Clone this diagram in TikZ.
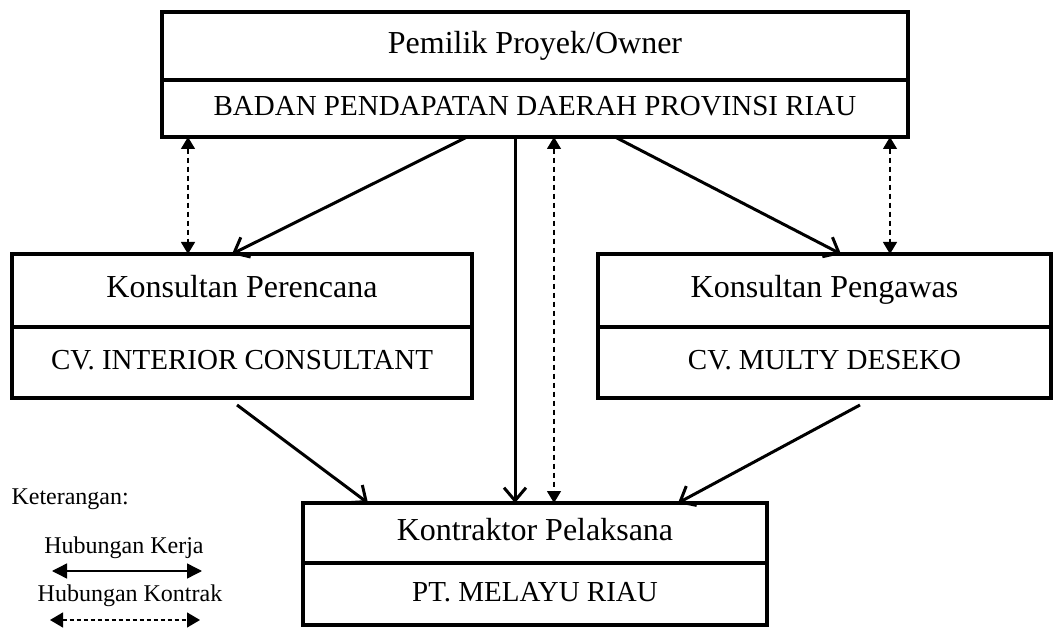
\documentclass[tikz,border=0pt]{standalone}
\usepackage{fontspec}
\setmainfont{Liberation Serif}
\usepackage{tikz}
\usetikzlibrary{positioning,arrows.meta}

\begin{document}
\begin{tikzpicture}[x=1pt,y=-1pt,
    kotak/.style={shape=rectangle, draw, line width=3.2pt, outer sep=0pt, inner sep=0pt},
    judul/.style={kotak, font=\fontsize{32}{38}\selectfont, text height=21pt, text depth=6pt},
    nama/.style={kotak, font=\fontsize{29}{35}\selectfont, text height=19pt, text depth=4pt},
    kerja/.style={line width=3pt, -{Straight Barb[length=13pt,width=22pt]}},
    kontrak/.style={line width=1.2pt, dash pattern=on 5pt off 4pt, {Triangle[length=12pt,width=14pt]}-{Triangle[length=12pt,width=14pt]}},
    ket/.style={font=\fontsize{24}{29}\selectfont}]
                        \useasboundingbox (0,0) rectangle (1053,628);

                        \node[judul, minimum width=746pt, minimum height=68pt] (owner) at (535,46) {Pemilik Proyek/Owner};
                        \node[nama, minimum width=746pt, minimum height=57pt] (badan) [below=0pt of owner] {BADAN PENDAPATAN DAERAH PROVINSI RIAU};

                        \node[judul, minimum width=460pt, minimum height=73pt] (perencana) at (242,290.5) {Konsultan Perencana};
                        \node[nama, minimum width=460pt, minimum height=71pt] (interior) [below=0pt of perencana] {CV. INTERIOR CONSULTANT};

                        \node[judul, minimum width=453pt, minimum height=73pt] (pengawas) at (824.5,290.5) {Konsultan Pengawas};
                        \node[nama, minimum width=453pt, minimum height=71pt] (multy) [below=0pt of pengawas] {CV. MULTY DESEKO};

                        \node[judul, minimum width=464pt, minimum height=60pt] (kontraktor) at (535,533) {Kontraktor Pelaksana};
                        \node[nama, minimum width=464pt, minimum height=62pt] (melayu) [below=0pt of kontraktor] {PT. MELAYU RIAU};

                        % ujung panah
                        \coordinate (a1) at ([xshift=-68pt]badan.south);
                        \coordinate (a2) at ([xshift=-10pt]perencana.north);
                        \coordinate (b1) at ([xshift=80pt]badan.south);
                        \coordinate (b2) at ([xshift=16.5pt]pengawas.north);
                        \coordinate (c1) at ([xshift=-20pt]badan.south);
                        \coordinate (c2) at ([xshift=-20pt]kontraktor.north);
                        \coordinate (d1) at ([xshift=-5pt,yshift=-7pt]interior.south);
                        \coordinate (d2) at ([xshift=-167pt]kontraktor.north);
                        \coordinate (e1) at ([xshift=35.5pt,yshift=-7pt]multy.south);
                        \coordinate (e2) at ([xshift=143pt]kontraktor.north);

                        \coordinate (f1) at ([xshift=-347pt]badan.south);
                        \coordinate (f2) at ([xshift=-54pt]perencana.north);
                        \coordinate (g1) at ([xshift=355pt]badan.south);
                        \coordinate (g2) at ([xshift=65.5pt]pengawas.north);
                        \coordinate (h1) at ([xshift=19pt]badan.south);
                        \coordinate (h2) at ([xshift=19pt]kontraktor.north);

                        \path	[kerja]	(a1)	edge	(a2)
                        (b1)	edge	(b2)
                        (c1)	edge	(c2)
                        (d1)	edge	(d2)
                        (e1)	edge	(e2);

                        \path	[kontrak]	(f1)	edge	(f2)
                        (g1)	edge	(g2)
                        (h1)	edge	(h2);

                        % keterangan
                        \node[ket, anchor=base west] (keterangan) at (8,504) {Keterangan:};
                        \node[ket, anchor=base] (hkerja) at (124,553) {Hubungan Kerja};
                        \node[ket, anchor=base] (hkontrak) at (130,601) {Hubungan Kontrak};

                        \coordinate (k1) at (52,571);
                        \coordinate (k2) at (202,571);
                        \coordinate (l1) at (50,620);
                        \coordinate (l2) at (200,620);

                        \path	[line width=1.4pt, {Triangle[length=15pt,width=15pt]}-{Triangle[length=15pt,width=15pt]}]	(k1)	edge	(k2);
                        \path	[line width=1.3pt, dash pattern=on 4pt off 3pt, {Triangle[length=13pt,width=15pt]}-{Triangle[length=13pt,width=15pt]}]	(l1)	edge	(l2);
                    \end{tikzpicture}
\end{document}
